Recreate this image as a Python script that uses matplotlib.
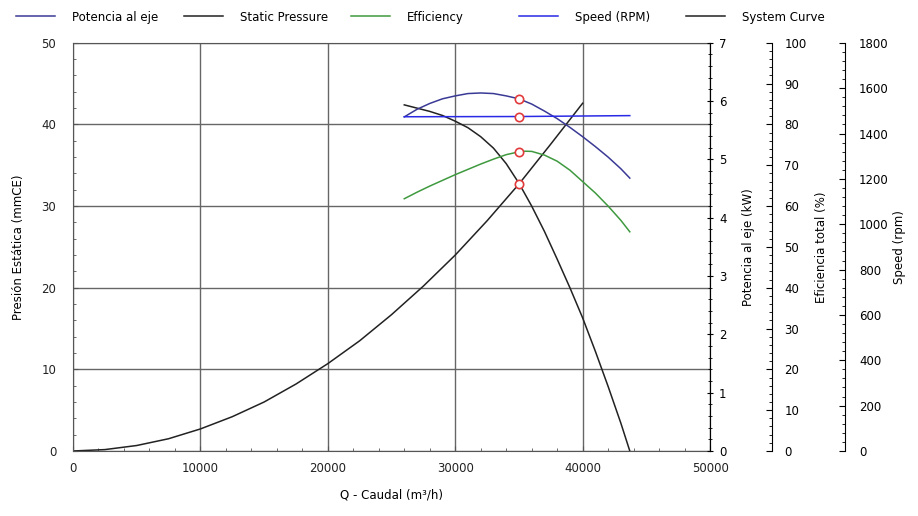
import numpy as np
import matplotlib
matplotlib.use("Agg")
import matplotlib.pyplot as plt
from matplotlib.ticker import MultipleLocator
from matplotlib.lines import Line2D

# Fan curve data
q_fan = [26000, 27000, 28000, 29000, 30000, 31000, 32000, 33000, 34000, 35000,
         36000, 37000, 38000, 39000, 40000, 41000, 42000, 43000, 43700]
static_pressure = [42.4, 42.0, 41.6, 41.1, 40.4, 39.6, 38.5, 37.1, 35.2, 32.8,
                   30.0, 26.9, 23.5, 20.0, 16.3, 12.2, 7.9, 3.4, 0.0]

q_sys = [0, 2500, 5000, 7500, 10000, 12500, 15000, 17500, 20000, 22500,
         25000, 27500, 30000, 32500, 35000, 37500, 40000]
system_curve = [0.0, 0.17, 0.67, 1.5, 2.7, 4.2, 6.0, 8.2, 10.7, 13.5,
                16.7, 20.2, 24.0, 28.2, 32.7, 37.6, 42.6]

q_power = [26000, 27000, 28000, 29000, 30000, 31000, 32000, 33000, 34000, 35000,
           36000, 37000, 38000, 39000, 40000, 41000, 42000, 43000, 43700]
power_kw = [5.73, 5.86, 5.96, 6.04, 6.09, 6.13, 6.14, 6.13, 6.09, 6.04,
            5.95, 5.83, 5.70, 5.55, 5.39, 5.22, 5.04, 4.84, 4.68]

q_eff = [26000, 27000, 28000, 29000, 30000, 31000, 32000, 33000, 34000, 35000,
         35500, 36000, 37000, 38000, 39000, 40000, 41000, 42000, 43000, 43700]
efficiency = [61.8, 63.4, 64.9, 66.3, 67.7, 69.0, 70.3, 71.5, 72.6, 73.3,
              73.45, 73.4, 72.5, 71.0, 68.8, 66.0, 63.2, 60.0, 56.5, 53.7]

q_speed = [26000, 35000, 43700]
speed_rpm = [1474, 1475, 1479]

# duty point
q_duty = 35000
duty_pressure = 32.7
duty_power = 6.04
duty_eff = 73.3
duty_speed = 1472

C_POWER = "#3a3a96"
C_PRESS = "#222222"
C_EFF = "#3f9a3f"
C_SPEED = "#2a2ae6"
C_MARK = "#e23a3a"

plt.rcParams["font.family"] = ["DejaVu Sans"]
plt.rcParams["font.size"] = 8.5

fig = plt.figure(figsize=(9.18, 5.16), dpi=100)
ax = fig.add_axes([0.0795, 0.126, 0.694, 0.791])

ax.plot(q_sys, system_curve, color=C_PRESS, lw=1.1)
ax.plot(q_fan, static_pressure, color=C_PRESS, lw=1.1)
ax.plot([q_duty], [duty_pressure], "o", ms=6, mfc="white", mec=C_MARK, mew=1.2, zorder=6)

ax.set_xlim(0, 50000)
ax.set_ylim(0, 50)
ax.xaxis.set_major_locator(MultipleLocator(10000))
ax.xaxis.set_minor_locator(MultipleLocator(2000))
ax.yaxis.set_major_locator(MultipleLocator(10))
ax.yaxis.set_minor_locator(MultipleLocator(2))
ax.grid(True, which="major", color="#666666", lw=1.0)
ax.tick_params(which="both", direction="in", colors="#555555", labelcolor="#222222")
ax.tick_params(which="minor", length=2)
ax.tick_params(axis="x", pad=8)
ax.tick_params(axis="y", pad=12)
for s in ax.spines.values():
    s.set_color("#555555")
ax.set_xlabel("Q - Caudal (m³/h)", labelpad=10)
ax.set_ylabel("Presión Estática (mmCE)", labelpad=12)

# power axis on the right spine
axp = ax.twinx()
axp.plot(q_power, power_kw, color=C_POWER, lw=1.1)
axp.plot([q_duty], [duty_power], "o", ms=6, mfc="white", mec=C_MARK, mew=1.2, zorder=6)
axp.set_ylim(0, 7)
axp.yaxis.set_major_locator(MultipleLocator(1))
axp.yaxis.set_minor_locator(MultipleLocator(0.2))
axp.tick_params(which="both", direction="inout", length=5, pad=4)
axp.tick_params(which="minor", length=3)
axp.set_ylabel("Potencia al eje (kW)", labelpad=11)
for k in ["top", "bottom", "left"]:
    axp.spines[k].set_visible(False)

# efficiency axis
axe = ax.twinx()
axe.spines["right"].set_position(("axes", 1.097))
axe.plot(q_eff, efficiency, color=C_EFF, lw=1.1)
axe.plot([q_duty], [duty_eff], "o", ms=6, mfc="white", mec=C_MARK, mew=1.2, zorder=6)
axe.set_ylim(0, 100)
axe.yaxis.set_major_locator(MultipleLocator(10))
axe.yaxis.set_minor_locator(MultipleLocator(2))
axe.tick_params(which="both", direction="in", length=4, pad=9)
axe.tick_params(which="minor", length=2)
axe.set_ylabel("Eficiencia total (%)", labelpad=6)
for k in ["top", "bottom", "left"]:
    axe.spines[k].set_visible(False)

# speed axis
axs = ax.twinx()
axs.spines["right"].set_position(("axes", 1.212))
axs.plot(q_speed, speed_rpm, color=C_SPEED, lw=1.1)
axs.plot([q_duty], [duty_speed], "o", ms=6, mfc="white", mec=C_MARK, mew=1.2, zorder=6)
axs.set_ylim(0, 1800)
axs.yaxis.set_major_locator(MultipleLocator(200))
axs.yaxis.set_minor_locator(MultipleLocator(40))
axs.tick_params(which="both", direction="in", length=4, pad=10)
axs.tick_params(which="minor", length=2)
axs.set_ylabel("Speed (rpm)", labelpad=3)
for k in ["top", "bottom", "left"]:
    axs.spines[k].set_visible(False)

# legend: five evenly spaced entries across the top
handles = [
    Line2D([], [], color=C_POWER, lw=1.1),
    Line2D([], [], color=C_PRESS, lw=1.1),
    Line2D([], [], color=C_EFF, lw=1.1),
    Line2D([], [], color=C_SPEED, lw=1.1),
    Line2D([], [], color=C_PRESS, lw=1.1),
]
labels = ["Potencia al eje", "Static Pressure", "Efficiency", "Speed (RPM)", "System Curve"]
for i, (h, lab) in enumerate(zip(handles, labels)):
    fig.legend([h], [lab], loc="center left", frameon=False,
               bbox_to_anchor=(0.0175 + i * 0.1825, 0.967), handlelength=3.3,
               handletextpad=1.45, borderaxespad=0, borderpad=0)

fig.savefig("out.png", dpi=100)
